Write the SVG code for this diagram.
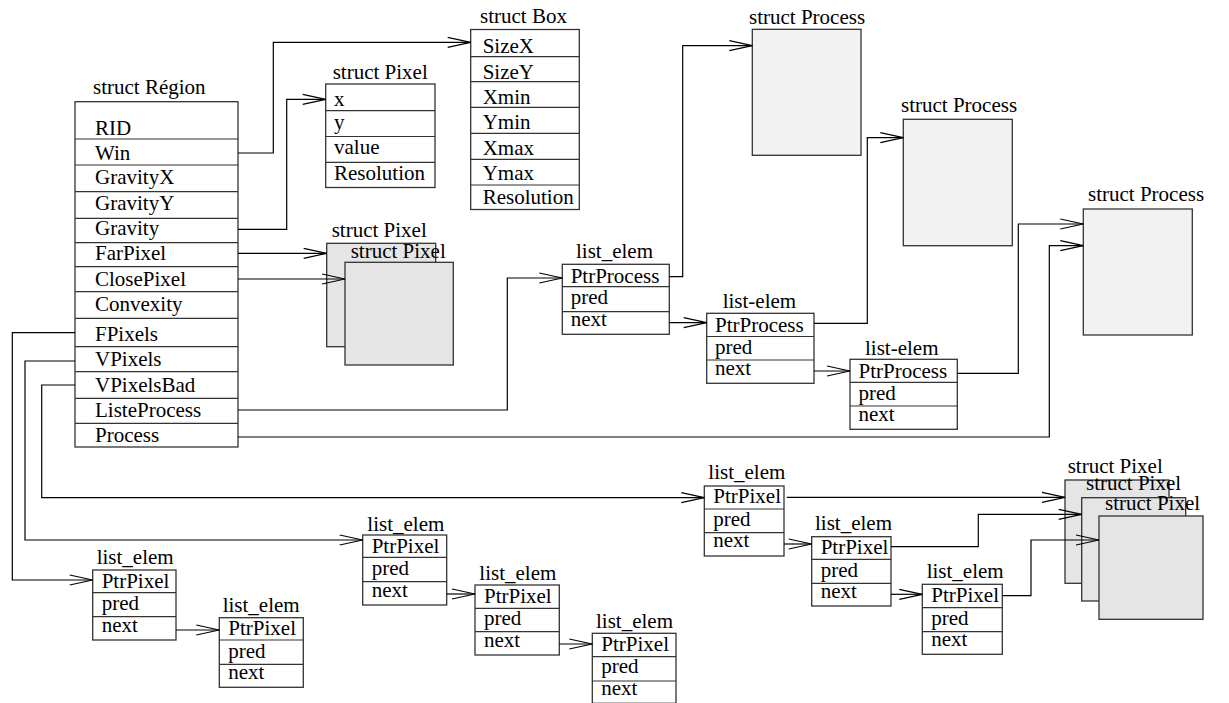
<svg xmlns="http://www.w3.org/2000/svg" width="1229" height="703" viewBox="0 0 1229 703">
<style>
text{font-family:"Liberation Serif","Times New Roman",serif;font-size:21px;fill:#000}
.b{fill:#fff;stroke:#333;stroke-width:1.3}
.d{stroke:#333;stroke-width:1.2;fill:none}
.pp{fill:#f2f2f2;stroke:#333;stroke-width:1.3}
.px{fill:#e5e5e5;stroke:#333;stroke-width:1.3}
.c{fill:none;stroke:#000;stroke-width:1.2;marker-end:url(#a)}
</style>
<defs>
<marker id="a" markerUnits="userSpaceOnUse" markerWidth="26" markerHeight="12" refX="23" refY="5" orient="auto" overflow="visible">
<path d="M0,0 L23,5 L0,10" fill="none" stroke="#000" stroke-width="1.2"/>
</marker>
</defs>
<rect width="1229" height="703" fill="#fff"/>

<g id="region">
<text x="93" y="94">struct Région</text>
<rect class="b" x="75" y="101.7" width="163" height="345.3"/>
<path class="d" d="M75,139H238M75,165H238M75,191.7H238M75,218.3H238M75,242.7H238M75,266.7H238M75,291.7H238M75,318.3H238M75,346.7H238M75,371.7H238M75,398.3H238M75,423.3H238"/>
<text x="95" y="135">RID</text>
<text x="95" y="160">Win</text>
<text x="95" y="184">GravityX</text>
<text x="95" y="210">GravityY</text>
<text x="95" y="235">Gravity</text>
<text x="95" y="260">FarPixel</text>
<text x="95" y="286">ClosePixel</text>
<text x="95" y="311">Convexity</text>
<text x="95" y="341">FPixels</text>
<text x="95" y="366">VPixels</text>
<text x="95" y="392">VPixelsBad</text>
<text x="95" y="417">ListeProcess</text>
<text x="95" y="442">Process</text>
</g>

<g id="pixel-top">
<text x="332.7" y="79">struct Pixel</text>
<rect class="b" x="325.7" y="84" width="109.3" height="103.5"/>
<path class="d" d="M325.7,110.7H435M325.7,136.5H435M325.7,162.3H435"/>
<text x="334" y="106">x</text>
<text x="334" y="129">y</text>
<text x="334" y="154">value</text>
<text x="334" y="179.5">Resolution</text>
</g>

<g id="box">
<text x="480" y="22.5">struct Box</text>
<rect class="b" x="470.7" y="29.5" width="108.6" height="180"/>
<path class="d" d="M470.7,56.7H579.3M470.7,81.7H579.3M470.7,107.3H579.3M470.7,133.3H579.3M470.7,159.3H579.3M470.7,185H579.3"/>
<text x="482.7" y="53">SizeX</text>
<text x="482.7" y="78.5">SizeY</text>
<text x="482.7" y="103.5">Xmin</text>
<text x="482.7" y="129">Ymin</text>
<text x="482.7" y="154.5">Xmax</text>
<text x="482.7" y="180">Ymax</text>
<text x="482.7" y="204">Resolution</text>
</g>

<g id="pixel-far">
<rect class="px" x="326.7" y="243.3" width="109" height="103.4"/>
<text x="331.7" y="236.7">struct Pixel</text>
</g>
<g id="pixel-close">
<text x="350.7" y="257.7">struct Pixel</text>
<rect class="px" x="345" y="262.3" width="108.3" height="102.7"/>
</g>

<g id="process1">
<text x="749" y="24">struct Process</text>
<rect class="pp" x="752.3" y="29.3" width="108.7" height="126"/>
</g>
<g id="process2">
<text x="901" y="112">struct Process</text>
<rect class="pp" x="903.3" y="119.3" width="109" height="126.4"/>
</g>
<g id="process3">
<text x="1088" y="201">struct Process</text>
<rect class="pp" x="1083.3" y="209" width="109" height="126"/>
</g>

<g id="plist1">
<text x="576" y="258">list_elem</text>
<rect class="b" x="562.3" y="264.3" width="107" height="70"/>
<path class="d" d="M562.3,286.7H669.3M562.3,311.7H669.3"/>
<text x="570.7" y="282.5">PtrProcess</text>
<text x="570.7" y="304">pred</text>
<text x="570.7" y="325.5">next</text>
</g>
<g id="plist2">
<text x="722.7" y="308">list-elem</text>
<rect class="b" x="706.7" y="313.3" width="107.3" height="70"/>
<path class="d" d="M706.7,336.5H814M706.7,360H814"/>
<text x="715" y="331.5">PtrProcess</text>
<text x="715" y="353.5">pred</text>
<text x="715" y="375">next</text>
</g>
<g id="plist3">
<text x="865" y="355">list-elem</text>
<rect class="b" x="850" y="359.3" width="107.3" height="70"/>
<path class="d" d="M850,382.3H957.3M850,406H957.3"/>
<text x="858.5" y="377.5">PtrProcess</text>
<text x="858.5" y="399.5">pred</text>
<text x="858.5" y="421">next</text>
</g>

<g id="flistA">
<text x="96.7" y="564">list_elem</text>
<rect class="b" x="92.7" y="570" width="83.3" height="70"/>
<path class="d" d="M92.7,592.7H176M92.7,616.7H176"/>
<text x="101.7" y="587.5">PtrPixel</text>
<text x="101.7" y="610">pred</text>
<text x="101.7" y="631.5">next</text>
</g>
<g id="flistA2">
<text x="222.7" y="611.7">list_elem</text>
<rect class="b" x="219.3" y="617.7" width="84" height="69.6"/>
<path class="d" d="M219.3,640H303.3M219.3,664.3H303.3"/>
<text x="228.3" y="635">PtrPixel</text>
<text x="228.3" y="657.5">pred</text>
<text x="228.3" y="679">next</text>
</g>

<g id="vlistB">
<text x="367.3" y="530.7">list_elem</text>
<rect class="b" x="362.7" y="535" width="84" height="70"/>
<path class="d" d="M362.7,557.3H446.7M362.7,581.7H446.7"/>
<text x="371.7" y="552.5">PtrPixel</text>
<text x="371.7" y="575">pred</text>
<text x="371.7" y="596.5">next</text>
</g>
<g id="vlistB2">
<text x="479.3" y="580">list_elem</text>
<rect class="b" x="475" y="585" width="84.3" height="70"/>
<path class="d" d="M475,608.3H559.3M475,631.7H559.3"/>
<text x="484" y="602.5">PtrPixel</text>
<text x="484" y="625">pred</text>
<text x="484" y="646.5">next</text>
</g>
<g id="vlistB3">
<text x="596" y="628.3">list_elem</text>
<rect class="b" x="592.3" y="633.3" width="83.7" height="70"/>
<path class="d" d="M592.3,656.7H676M592.3,681H676"/>
<text x="601.3" y="650.8">PtrPixel</text>
<text x="601.3" y="673.3">pred</text>
<text x="601.3" y="695">next</text>
</g>

<g id="blistC">
<text x="708.3" y="479.3">list_elem</text>
<rect class="b" x="704.3" y="486" width="79.7" height="70"/>
<path class="d" d="M704.3,509H784M704.3,532.7H784"/>
<text x="713.3" y="503.3">PtrPixel</text>
<text x="713.3" y="526">pred</text>
<text x="713.3" y="547.3">next</text>
</g>
<g id="blistC2">
<text x="815" y="530">list_elem</text>
<rect class="b" x="811.7" y="536.7" width="79.3" height="69.3"/>
<path class="d" d="M811.7,559.3H891M811.7,583.3H891"/>
<text x="820.7" y="554">PtrPixel</text>
<text x="820.7" y="576.5">pred</text>
<text x="820.7" y="598">next</text>
</g>
<g id="blistC3">
<text x="926.7" y="578.3">list_elem</text>
<rect class="b" x="922.3" y="584.3" width="80" height="70"/>
<path class="d" d="M922.3,607.7H1002.3M922.3,631.7H1002.3"/>
<text x="931.3" y="601.5">PtrPixel</text>
<text x="931.3" y="624.5">pred</text>
<text x="931.3" y="646">next</text>
</g>

<g id="pixel-b1">
<text x="1067.7" y="473.3">struct Pixel</text>
<rect class="px" x="1065" y="480" width="104" height="103.3"/>
</g>
<g id="pixel-b2">
<text x="1086" y="490">struct Pixel</text>
<rect class="px" x="1081.7" y="497.7" width="104" height="103.3"/>
</g>
<g id="pixel-b3">
<text x="1105" y="510">struct Pixel</text>
<rect class="px" x="1099" y="516" width="104" height="103.3"/>
</g>

<g id="connectors">
<path class="c" d="M238,153H273.3V42.3H470.7"/>
<path class="c" d="M238,229.3H286.7V99.3H325.7"/>
<path class="c" d="M238,253.3H326.7"/>
<path class="c" d="M238,279H345"/>
<path class="c" d="M75,332.7H12.3V580H92.7"/>
<path class="c" d="M75,361H25V540H362.7"/>
<path class="c" d="M75,385H41.7V497.7H704.3"/>
<path class="c" d="M238,410H507.3V278H562.3"/>
<path class="c" d="M238,437H1049.3V245.7H1083.3"/>
<path class="c" d="M669.3,276.7H682.7V45.7H752.3"/>
<path class="c" d="M669.3,322.7H706.7"/>
<path class="c" d="M814,323.3H867.3V137.7H903.3"/>
<path class="c" d="M814,371H850"/>
<path class="c" d="M957.3,373.3H1018.3V224H1083.3"/>
<path class="c" d="M176,630H219.3"/>
<path class="c" d="M446.7,594H475"/>
<path class="c" d="M559.3,644H592.3"/>
<path class="c" d="M786.7,497.3H1065"/>
<path class="c" d="M784,544H811.7"/>
<path class="c" d="M891,546.7H978.3V514.3H1081.7"/>
<path class="c" d="M891,594.3H922.3"/>
<path class="c" d="M1002.3,595.7H1031V540H1099"/>
</g>
</svg>
